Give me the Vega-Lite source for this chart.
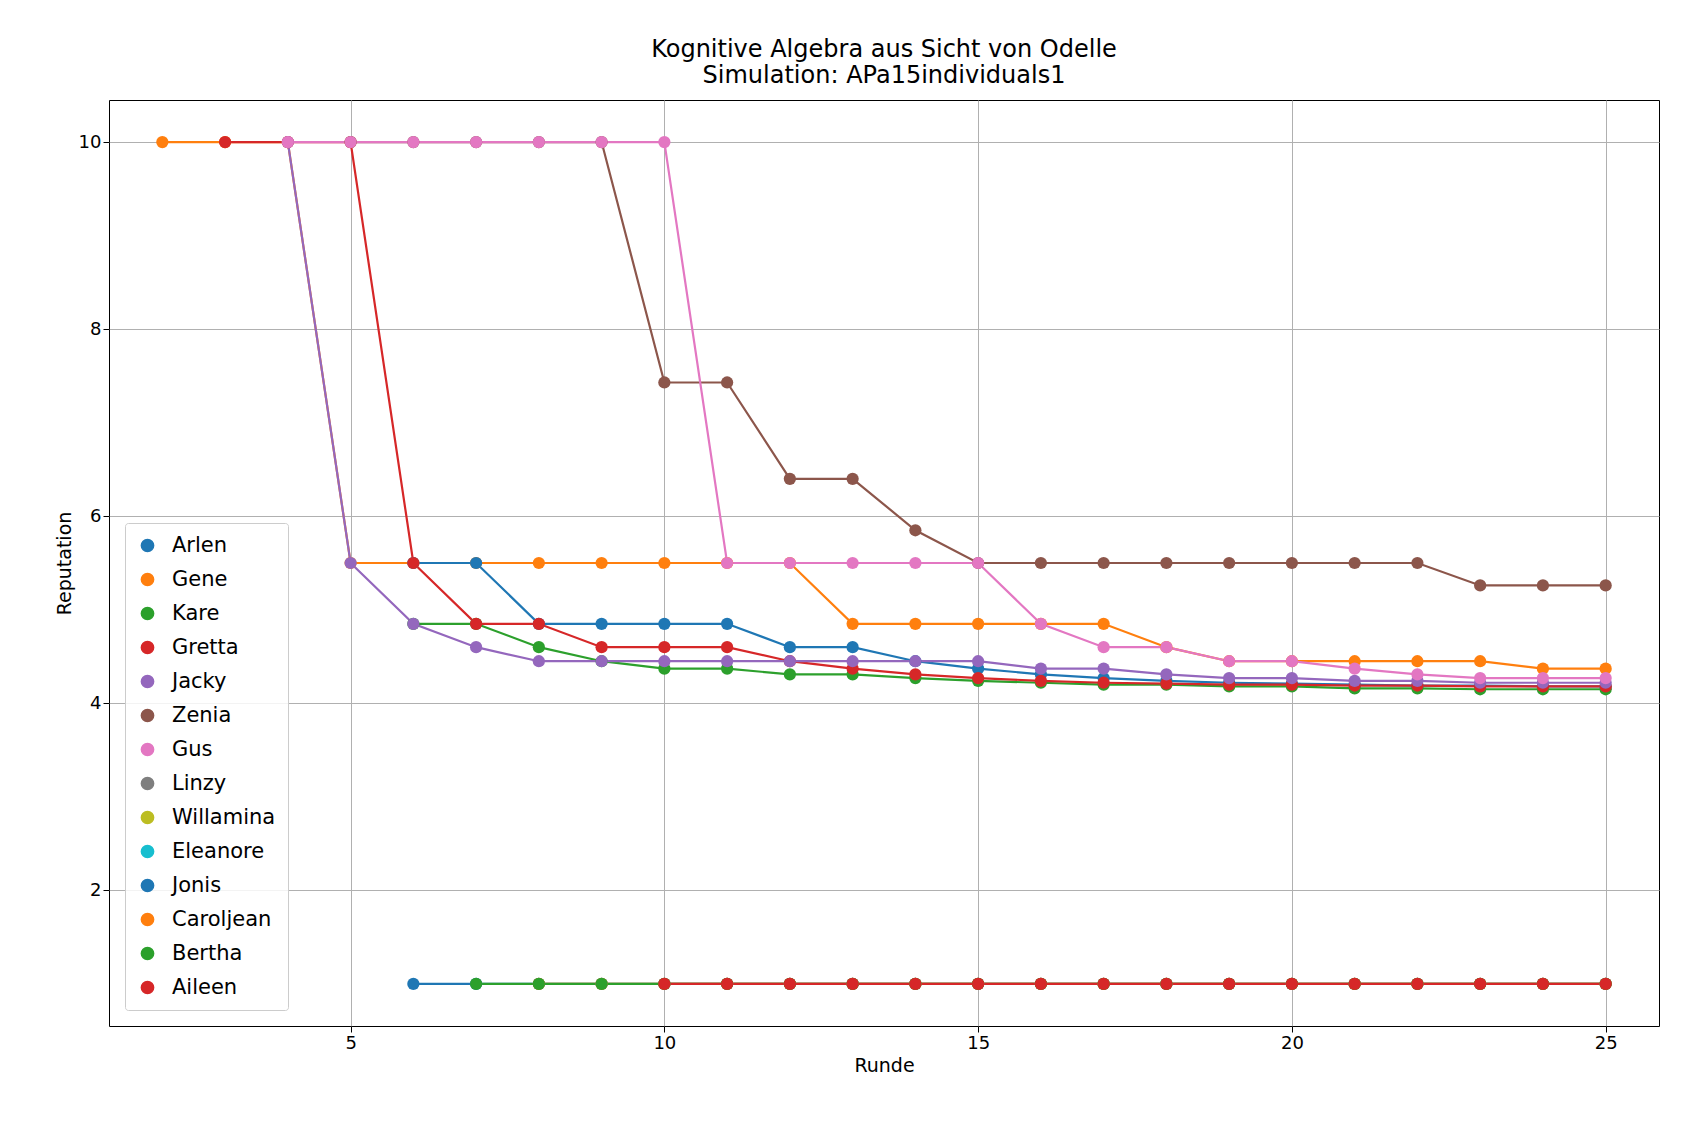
{
  "$schema": "https://vega.github.io/schema/vega-lite/v6.json",
  "width": 1550,
  "height": 926,
  "padding": {"left": 55, "top": 38, "right": 20, "bottom": 10},
  "config": {"font": "DejaVu Sans", "view": {"stroke": "black"}, "axis": {"gridColor": "#b0b0b0", "domain": false, "labelFontSize": 18, "titleFontSize": 19, "titleFontWeight": "normal", "tickColor": "black", "tickSize": 6, "labelColor": "black", "titleColor": "black"}, "title": {"color": "black"}},
  "title": {"text": ["Kognitive Algebra aus Sicht von Odelle", "Simulation: APa15individuals1"], "fontSize": 24, "fontWeight": "normal", "offset": 12},
  "data": {"values": [
    {"s":"Gene","x":2,"y":10},{"s":"Gene","x":3,"y":10},{"s":"Gene","x":4,"y":10},{"s":"Gene","x":5,"y":5.5},{"s":"Gene","x":6,"y":5.5},{"s":"Gene","x":7,"y":5.5},{"s":"Gene","x":8,"y":5.5},{"s":"Gene","x":9,"y":5.5},{"s":"Gene","x":10,"y":5.5},{"s":"Gene","x":11,"y":5.5},{"s":"Gene","x":12,"y":5.5},{"s":"Gene","x":13,"y":4.85},{"s":"Gene","x":14,"y":4.85},{"s":"Gene","x":15,"y":4.85},{"s":"Gene","x":16,"y":4.85},{"s":"Gene","x":17,"y":4.85},{"s":"Gene","x":18,"y":4.6},{"s":"Gene","x":19,"y":4.45},{"s":"Gene","x":20,"y":4.45},{"s":"Gene","x":21,"y":4.45},{"s":"Gene","x":22,"y":4.45},{"s":"Gene","x":23,"y":4.45},{"s":"Gene","x":24,"y":4.37},{"s":"Gene","x":25,"y":4.37},
    {"s":"Arlen","x":6,"y":5.5},{"s":"Arlen","x":7,"y":5.5},{"s":"Arlen","x":8,"y":4.85},{"s":"Arlen","x":9,"y":4.85},{"s":"Arlen","x":10,"y":4.85},{"s":"Arlen","x":11,"y":4.85},{"s":"Arlen","x":12,"y":4.6},{"s":"Arlen","x":13,"y":4.6},{"s":"Arlen","x":14,"y":4.45},{"s":"Arlen","x":15,"y":4.37},{"s":"Arlen","x":16,"y":4.31},{"s":"Arlen","x":17,"y":4.27},{"s":"Arlen","x":18,"y":4.24},{"s":"Arlen","x":19,"y":4.22},{"s":"Arlen","x":20,"y":4.21},{"s":"Arlen","x":21,"y":4.2},{"s":"Arlen","x":22,"y":4.19},{"s":"Arlen","x":23,"y":4.19},{"s":"Arlen","x":24,"y":4.18},{"s":"Arlen","x":25,"y":4.18},
    {"s":"Kare","x":6,"y":4.85},{"s":"Kare","x":7,"y":4.85},{"s":"Kare","x":8,"y":4.6},{"s":"Kare","x":9,"y":4.45},{"s":"Kare","x":10,"y":4.37},{"s":"Kare","x":11,"y":4.37},{"s":"Kare","x":12,"y":4.31},{"s":"Kare","x":13,"y":4.31},{"s":"Kare","x":14,"y":4.27},{"s":"Kare","x":15,"y":4.24},{"s":"Kare","x":16,"y":4.22},{"s":"Kare","x":17,"y":4.2},{"s":"Kare","x":18,"y":4.2},{"s":"Kare","x":19,"y":4.18},{"s":"Kare","x":20,"y":4.18},{"s":"Kare","x":21,"y":4.16},{"s":"Kare","x":22,"y":4.16},{"s":"Kare","x":23,"y":4.15},{"s":"Kare","x":24,"y":4.15},{"s":"Kare","x":25,"y":4.15},
    {"s":"Gretta","x":3,"y":10},{"s":"Gretta","x":4,"y":10},{"s":"Gretta","x":5,"y":10},{"s":"Gretta","x":6,"y":5.5},{"s":"Gretta","x":7,"y":4.85},{"s":"Gretta","x":8,"y":4.85},{"s":"Gretta","x":9,"y":4.6},{"s":"Gretta","x":10,"y":4.6},{"s":"Gretta","x":11,"y":4.6},{"s":"Gretta","x":12,"y":4.45},{"s":"Gretta","x":13,"y":4.37},{"s":"Gretta","x":14,"y":4.31},{"s":"Gretta","x":15,"y":4.27},{"s":"Gretta","x":16,"y":4.24},{"s":"Gretta","x":17,"y":4.22},{"s":"Gretta","x":18,"y":4.21},{"s":"Gretta","x":19,"y":4.2},{"s":"Gretta","x":20,"y":4.2},{"s":"Gretta","x":21,"y":4.19},{"s":"Gretta","x":22,"y":4.19},{"s":"Gretta","x":23,"y":4.18},{"s":"Gretta","x":24,"y":4.18},{"s":"Gretta","x":25,"y":4.18},
    {"s":"Jacky","x":4,"y":10},{"s":"Jacky","x":5,"y":5.5},{"s":"Jacky","x":6,"y":4.85},{"s":"Jacky","x":7,"y":4.6},{"s":"Jacky","x":8,"y":4.45},{"s":"Jacky","x":9,"y":4.45},{"s":"Jacky","x":10,"y":4.45},{"s":"Jacky","x":11,"y":4.45},{"s":"Jacky","x":12,"y":4.45},{"s":"Jacky","x":13,"y":4.45},{"s":"Jacky","x":14,"y":4.45},{"s":"Jacky","x":15,"y":4.45},{"s":"Jacky","x":16,"y":4.37},{"s":"Jacky","x":17,"y":4.37},{"s":"Jacky","x":18,"y":4.31},{"s":"Jacky","x":19,"y":4.27},{"s":"Jacky","x":20,"y":4.27},{"s":"Jacky","x":21,"y":4.24},{"s":"Jacky","x":22,"y":4.24},{"s":"Jacky","x":23,"y":4.22},{"s":"Jacky","x":24,"y":4.22},{"s":"Jacky","x":25,"y":4.22},
    {"s":"Zenia","x":5,"y":10},{"s":"Zenia","x":6,"y":10},{"s":"Zenia","x":7,"y":10},{"s":"Zenia","x":8,"y":10},{"s":"Zenia","x":9,"y":10},{"s":"Zenia","x":10,"y":7.43},{"s":"Zenia","x":11,"y":7.43},{"s":"Zenia","x":12,"y":6.4},{"s":"Zenia","x":13,"y":6.4},{"s":"Zenia","x":14,"y":5.85},{"s":"Zenia","x":15,"y":5.5},{"s":"Zenia","x":16,"y":5.5},{"s":"Zenia","x":17,"y":5.5},{"s":"Zenia","x":18,"y":5.5},{"s":"Zenia","x":19,"y":5.5},{"s":"Zenia","x":20,"y":5.5},{"s":"Zenia","x":21,"y":5.5},{"s":"Zenia","x":22,"y":5.5},{"s":"Zenia","x":23,"y":5.26},{"s":"Zenia","x":24,"y":5.26},{"s":"Zenia","x":25,"y":5.26},
    {"s":"Gus","x":4,"y":10},{"s":"Gus","x":5,"y":10},{"s":"Gus","x":6,"y":10},{"s":"Gus","x":7,"y":10},{"s":"Gus","x":8,"y":10},{"s":"Gus","x":9,"y":10},{"s":"Gus","x":10,"y":10},{"s":"Gus","x":11,"y":5.5},{"s":"Gus","x":12,"y":5.5},{"s":"Gus","x":13,"y":5.5},{"s":"Gus","x":14,"y":5.5},{"s":"Gus","x":15,"y":5.5},{"s":"Gus","x":16,"y":4.85},{"s":"Gus","x":17,"y":4.6},{"s":"Gus","x":18,"y":4.6},{"s":"Gus","x":19,"y":4.45},{"s":"Gus","x":20,"y":4.45},{"s":"Gus","x":21,"y":4.37},{"s":"Gus","x":22,"y":4.31},{"s":"Gus","x":23,"y":4.27},{"s":"Gus","x":24,"y":4.27},{"s":"Gus","x":25,"y":4.27},
    {"s":"Jonis","x":6,"y":1},{"s":"Jonis","x":7,"y":1},{"s":"Jonis","x":8,"y":1},{"s":"Jonis","x":9,"y":1},{"s":"Jonis","x":10,"y":1},{"s":"Jonis","x":11,"y":1},{"s":"Jonis","x":12,"y":1},{"s":"Jonis","x":13,"y":1},{"s":"Jonis","x":14,"y":1},{"s":"Jonis","x":15,"y":1},{"s":"Jonis","x":16,"y":1},{"s":"Jonis","x":17,"y":1},{"s":"Jonis","x":18,"y":1},{"s":"Jonis","x":19,"y":1},{"s":"Jonis","x":20,"y":1},{"s":"Jonis","x":21,"y":1},{"s":"Jonis","x":22,"y":1},{"s":"Jonis","x":23,"y":1},{"s":"Jonis","x":24,"y":1},{"s":"Jonis","x":25,"y":1},
    {"s":"Caroljean","x":8,"y":1},{"s":"Caroljean","x":9,"y":1},{"s":"Caroljean","x":10,"y":1},{"s":"Caroljean","x":11,"y":1},{"s":"Caroljean","x":12,"y":1},{"s":"Caroljean","x":13,"y":1},{"s":"Caroljean","x":14,"y":1},{"s":"Caroljean","x":15,"y":1},{"s":"Caroljean","x":16,"y":1},{"s":"Caroljean","x":17,"y":1},{"s":"Caroljean","x":18,"y":1},{"s":"Caroljean","x":19,"y":1},{"s":"Caroljean","x":20,"y":1},{"s":"Caroljean","x":21,"y":1},{"s":"Caroljean","x":22,"y":1},{"s":"Caroljean","x":23,"y":1},{"s":"Caroljean","x":24,"y":1},{"s":"Caroljean","x":25,"y":1},
    {"s":"Bertha","x":7,"y":1},{"s":"Bertha","x":8,"y":1},{"s":"Bertha","x":9,"y":1},{"s":"Bertha","x":10,"y":1},{"s":"Bertha","x":11,"y":1},{"s":"Bertha","x":12,"y":1},{"s":"Bertha","x":13,"y":1},{"s":"Bertha","x":14,"y":1},{"s":"Bertha","x":15,"y":1},{"s":"Bertha","x":16,"y":1},{"s":"Bertha","x":17,"y":1},{"s":"Bertha","x":18,"y":1},{"s":"Bertha","x":19,"y":1},{"s":"Bertha","x":20,"y":1},{"s":"Bertha","x":21,"y":1},{"s":"Bertha","x":22,"y":1},{"s":"Bertha","x":23,"y":1},{"s":"Bertha","x":24,"y":1},{"s":"Bertha","x":25,"y":1},
    {"s":"Aileen","x":10,"y":1},{"s":"Aileen","x":11,"y":1},{"s":"Aileen","x":12,"y":1},{"s":"Aileen","x":13,"y":1},{"s":"Aileen","x":14,"y":1},{"s":"Aileen","x":15,"y":1},{"s":"Aileen","x":16,"y":1},{"s":"Aileen","x":17,"y":1},{"s":"Aileen","x":18,"y":1},{"s":"Aileen","x":19,"y":1},{"s":"Aileen","x":20,"y":1},{"s":"Aileen","x":21,"y":1},{"s":"Aileen","x":22,"y":1},{"s":"Aileen","x":23,"y":1},{"s":"Aileen","x":24,"y":1},{"s":"Aileen","x":25,"y":1}
  ]},
  "mark": {"type": "line", "strokeWidth": 2.2, "point": {"filled": true, "size": 150, "opacity": 1}},
  "encoding": {
    "x": {"field": "x", "type": "quantitative", "title": "Runde", "scale": {"domain": [1.15, 25.85], "nice": false, "zero": false}, "axis": {"values": [5, 10, 15, 20, 25]}},
    "y": {"field": "y", "type": "quantitative", "title": "Reputation", "scale": {"domain": [0.55, 10.45], "nice": false}, "axis": {"values": [2, 4, 6, 8, 10]}},
    "color": {"field": "s", "type": "nominal", "title": null,
      "scale": {"domain": ["Arlen","Gene","Kare","Gretta","Jacky","Zenia","Gus","Linzy","Willamina","Eleanore","Jonis","Caroljean","Bertha","Aileen"],
        "range": ["#1f77b4","#ff7f0e","#2ca02c","#d62728","#9467bd","#8c564b","#e377c2","#7f7f7f","#bcbd22","#17becf","#1f77b4","#ff7f0e","#2ca02c","#d62728"]},
      "legend": {"orient": "bottom-left", "offset": 16, "labelFontSize": 21, "labelColor": "black", "symbolType": "circle", "symbolSize": 150, "rowPadding": 12, "padding": 12, "fillColor": "rgba(255,255,255,0.85)", "strokeColor": "#cccccc", "cornerRadius": 3, "labelLimit": 300, "labelOffset": 14}},
    "order": {"field": "x", "type": "quantitative"}
  }
}
